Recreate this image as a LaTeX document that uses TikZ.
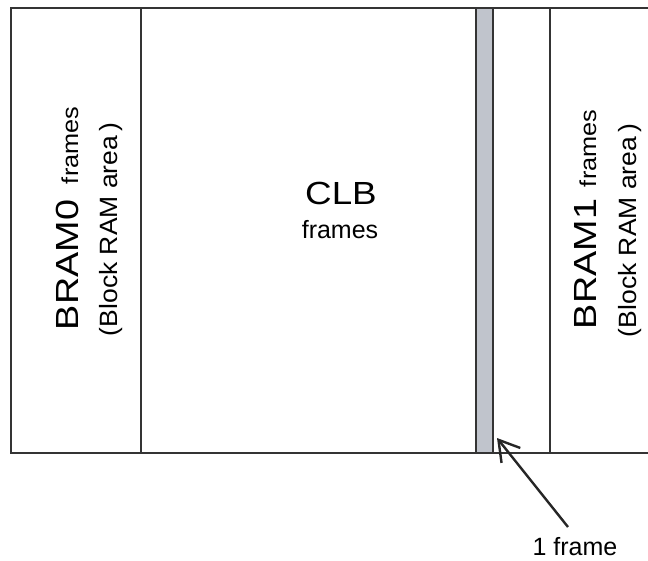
\documentclass[tikz,border=0pt]{standalone}
\usepackage{fontspec}
\setmainfont{Liberation Sans}
\usetikzlibrary{arrows.meta}
\definecolor{edge}{RGB}{52,52,52}
\definecolor{barfill}{RGB}{192,196,204}
\newcommand{\fs}[1]{\fontsize{#1}{#1}\selectfont}
\begin{document}
\begin{tikzpicture}[x=1pt,y=-1pt,
  wall/.style={draw=edge, line width=2pt},
  lbl/.style={inner sep=0pt, outer sep=0pt, text=black},
  side/.style={lbl, rotate=90, anchor=base west},
  pointer/.style={draw=black!85, line width=2.4pt,
    -{Straight Barb[length=20pt, width=24pt, line width=2.4pt]}}]
\useasboundingbox (0,0) rectangle (648,560);

% configuration memory columns
\fill[barfill] (476,8) rectangle (493,453);
\draw[wall] (648,8) -- (11,8) -- (11,453) -- (648,453);
\foreach \x in {141,476,493,550} \draw[wall] (\x,8) -- (\x,453);

% BRAM0 column
\node[side] (bram0) at (78,330) {\fs{32}\scalebox{1.18}[1]{BRAM0}};
\node[side] (bram0f) at (78,184) {\fs{23}\scalebox{1.1}[1]{frames}};
\node[side] (bram0a) at (117,336) {\fs{25}\scalebox{1.06}[1]{(Block RAM area\,)}};

% CLB column
\node[lbl, anchor=base] (clb) at (341,204) {\fs{32}\scalebox{1.15}[1]{CLB}};
\node[lbl, anchor=base] (clbf) at (340,238) {\fs{25}frames};

% BRAM1 column
\node[side] (bram1) at (596,329) {\fs{32}\scalebox{1.18}[1]{BRAM1}};
\node[side] (bram1f) at (596,187) {\fs{23}\scalebox{1.1}[1]{frames}};
\node[side] (bram1a) at (636,337) {\fs{25}\scalebox{1.06}[1]{(Block RAM area\,)}};

% single frame callout
\node[lbl, anchor=base] (one) at (575,555) {\fs{25}1 frame};
\coordinate (tail) at (568,527);
\coordinate (tip) at (497,438);
\draw[pointer] (tail) -- (tip);
\end{tikzpicture}
\end{document}
